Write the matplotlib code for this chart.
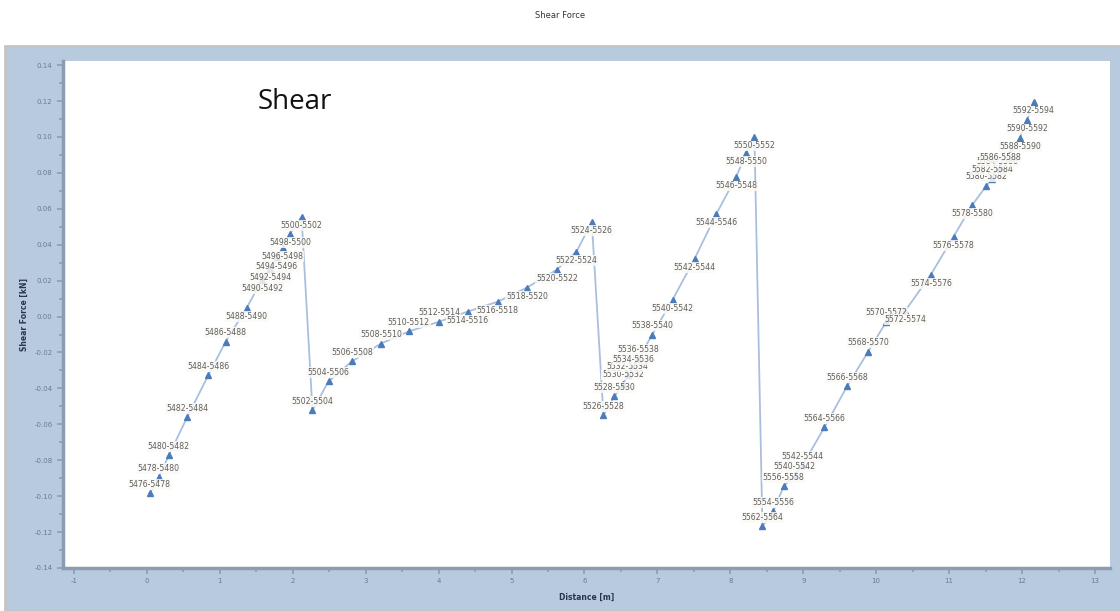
import matplotlib
matplotlib.use('Agg')
import matplotlib.pyplot as plt
from matplotlib.patches import Rectangle

# Datos (distancia [m], fuerza cortante [kN])
dist = [0.04, 0.16, 0.30, 0.55, 0.84, 1.08, 1.37, 1.58, 1.69, 1.78, 1.86, 1.96, 2.12,
        2.27, 2.49, 2.81, 3.21, 3.59, 4.01, 4.40, 4.81, 5.21, 5.62, 5.89, 6.10,
        6.26, 6.41, 6.53, 6.59, 6.67, 6.74, 6.93, 7.21, 7.51, 7.81, 8.08, 8.22, 8.33,
        8.44, 8.59, 8.73, 8.88, 8.99, 9.29, 9.60, 9.89, 10.14, 10.40, 10.75, 11.06,
        11.32, 11.51, 11.59, 11.66, 11.70, 11.97, 12.07, 12.16]
shear = [-0.0984, -0.0895, -0.0773, -0.0562, -0.0328, -0.0139, 0.0050, 0.0206, 0.0267,
         0.0328, 0.0384, 0.0461, 0.0556,
         -0.0523, -0.0361, -0.0250, -0.0150, -0.0083, -0.0028, 0.0028, 0.0083, 0.0161,
         0.0261, 0.0361, 0.0528,
         -0.0550, -0.0445, -0.0373, -0.0328, -0.0289, -0.0234, -0.0100, 0.0095, 0.0322,
         0.0573, 0.0778, 0.0912, 0.1001,
         -0.1168, -0.1084, -0.0945, -0.0884, -0.0828, -0.0617, -0.0389, -0.0195, -0.0028,
         0.0033, 0.0234, 0.0445, 0.0623, 0.0728, 0.0767, 0.0812, 0.0834, 0.0995,
         0.1095, 0.1195]
etiquetas = ['5476-5478', '5478-5480', '5480-5482', '5482-5484', '5484-5486', '5486-5488',
             '5488-5490', '5490-5492', '5492-5494', '5494-5496', '5496-5498', '5498-5500',
             '5500-5502',
             '5502-5504', '5504-5506', '5506-5508', '5508-5510', '5510-5512', '5512-5514',
             '5514-5516', '5516-5518', '5518-5520', '5520-5522', '5522-5524', '5524-5526',
             '5526-5528', '5528-5530', '5530-5532', '5532-5534', '5534-5536', '5536-5538',
             '5538-5540', '5540-5542', '5542-5544', '5544-5546', '5546-5548', '5548-5550',
             '5550-5552',
             '5562-5564', '5554-5556', '5556-5558', '5540-5542', '5542-5544', '5564-5566',
             '5566-5568', '5568-5570', '5570-5572', '5572-5574', '5574-5576', '5576-5578',
             '5578-5580', '5580-5582', '5582-5584', '5584-5586', '5586-5588', '5588-5590',
             '5590-5592', '5592-5594']
# Lado de la etiqueta: 'a' = arriba, 'b' = abajo
lado = ['a'] * 6 + ['b'] * 7 + ['a'] * 6 + ['b'] * 6 + ['a'] * 7 + ['b'] * 6 \
       + ['a'] * 9 + ['b'] * 4 + ['a'] * 4 + ['b'] * 3

y_ticks = [-0.14, -0.12, -0.10, -0.08, -0.06, -0.04, -0.02, 0.00, 0.02, 0.04, 0.06,
           0.08, 0.10, 0.12, 0.14]
x_ticks = list(range(-1, 14))

panel = '#b8cadd'
spine = '#8c9db2'

fig = plt.figure(figsize=(11.2, 6.11), dpi=100)
fig.patches.append(Rectangle((5 / 1120, 0), 1.0, (611 - 46) / 611, transform=fig.transFigure,
                             facecolor=panel, edgecolor='#c4c4c4', linewidth=2, zorder=-5))
fig.text(0.5, 1 - 15 / 611, 'Shear Force', ha='center', va='center', fontsize=6, color='#333333')

ax = fig.add_axes([63 / 1120, (611 - 568) / 611, (1110 - 63) / 1120, (568 - 61) / 611])
ax.set_zorder(1)
ax.set_facecolor('white')
ax.plot(dist, shear, color='#a8c0de', linewidth=1.3, marker='^', markersize=4,
        markerfacecolor='#4b7bb9', markeredgecolor='#4b7bb9', zorder=2)

for x, y, t, s in zip(dist, shear, etiquetas, lado):
    dy = 9 if s == 'a' else -9
    ax.annotate(t, (x, y), xytext=(0, dy), textcoords='offset pixels', ha='center',
                va='center', fontsize=5.6, color='#5f5f5f', zorder=3,
                bbox=dict(boxstyle='square,pad=0.1', fc='#fbfaf6', ec='none', alpha=0.85))

ax.text(295, 611 - 102, 'Shear', transform=None, fontsize=20, family='Open Sans',
        ha='center', va='center', color='#111111')

ax.set_xlim(-1.151, 13.206)
ax.set_ylim(-0.14, 0.1423)
ax.set_xticks(x_ticks)
ax.set_xticklabels([str(v) for v in x_ticks])
ax.set_xticks([v + 0.5 for v in x_ticks[:-1]], minor=True)
ax.set_yticks(y_ticks)
ax.set_yticklabels(['%.2f' % v for v in y_ticks])
ax.set_yticks([v + 0.01 for v in y_ticks[:-1]], minor=True)
ax.tick_params(axis='both', which='both', colors=spine, labelcolor='#6b7b92',
               labelsize=5, direction='out', width=1.2)
ax.tick_params(which='major', length=4)
ax.tick_params(which='minor', length=3)

for side in ['top', 'right']:
    ax.spines[side].set_visible(False)
for side in ['left', 'bottom']:
    ax.spines[side].set_color(spine)
    ax.spines[side].set_linewidth(2.5)

ax.set_xlabel('Distance [m]', fontsize=5.5, color='#2a3550', fontweight='bold', labelpad=6)
ax.set_ylabel('Shear Force [kN]', fontsize=5.5, color='#2a3550', fontweight='bold', labelpad=4)

fig.savefig('out.png', dpi=100, facecolor='white')
